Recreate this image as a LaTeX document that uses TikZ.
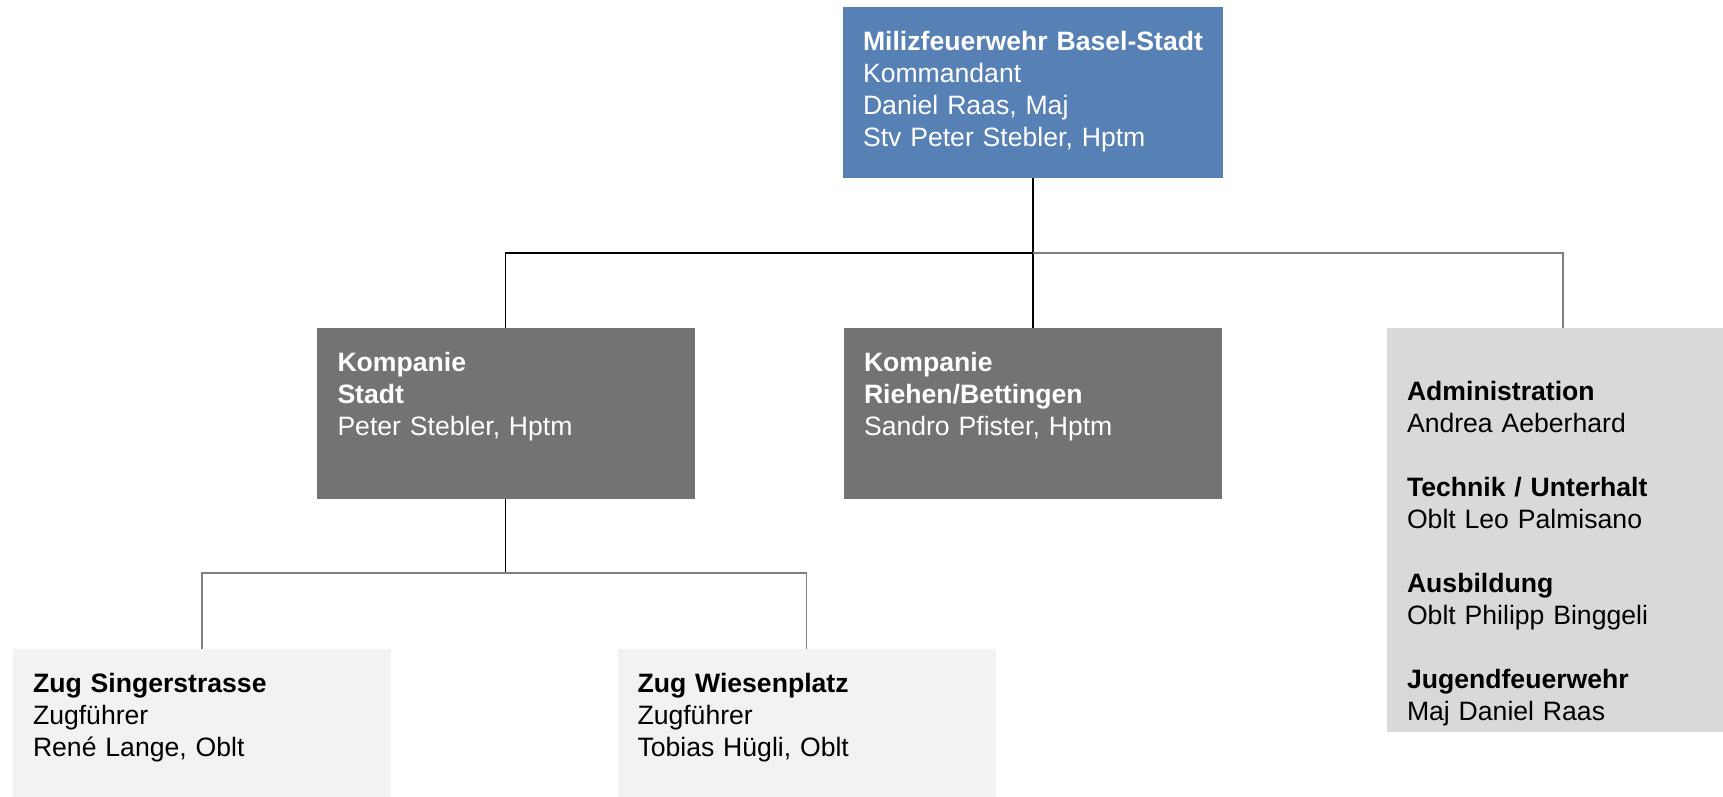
\documentclass[tikz,border=0pt]{standalone}
\usepackage{fontspec}
\setmainfont{Liberation Sans}
\usetikzlibrary{positioning}

\definecolor{chefblue}{RGB}{87,128,180}
\definecolor{kompgray}{RGB}{115,115,115}
\definecolor{admingray}{RGB}{217,217,217}
\definecolor{zuggray}{RGB}{242,242,242}
\definecolor{linkgray}{RGB}{128,128,128}

\tikzset{
  unitbox/.style={rectangle, inner sep=0pt, minimum width=189pt, minimum height=85.5pt},
  boxtext/.style={anchor=base west, inner sep=0pt, align=left, text width=170pt,
    font=\fontsize{13.3}{16}\selectfont},
  link/.style={draw=black, line width=0.75pt},
  greylink/.style={draw=linkgray, line width=0.75pt}
}

\begin{document}
\begin{tikzpicture}[x=0.5pt,y=-0.5pt]
      \useasboundingbox (0,0) rectangle (1723,797);
      \clip (0,0) rectangle (1723,797);
      % boxes
      \node[unitbox, fill=chefblue, minimum width=190pt] (chef) at (1033,92.5) {};
      \node[unitbox, fill=kompgray] (stadt) at (505.5,413.5) {};
      \node[unitbox, fill=kompgray] (riehen) at (1033,413.5) {};
      \node[unitbox, fill=admingray, minimum width=176pt, minimum height=202pt] (admin) at (1563,530) {};
      \node[unitbox, fill=zuggray] (singer) at (202,734.5) {};
      \node[unitbox, fill=zuggray] (wiesen) at (806.5,734.5) {};
      % texts
      \node[boxtext, text=white] (chef text) at ([shift={(20,44)}]chef.north west)
        {\textbf{Milizfeuerwehr Basel-Stadt}\\Kommandant\\Daniel Raas, Maj\\Stv Peter Stebler, Hptm};
      \node[boxtext, text=white] (stadt text) at ([shift={(21,44)}]stadt.north west)
        {\textbf{Kompanie}\\\textbf{Stadt}\\Peter Stebler, Hptm};
      \node[boxtext, text=white] (riehen text) at ([shift={(20,44)}]riehen.north west)
        {\textbf{Kompanie}\\\textbf{Riehen/Bettingen}\\Sandro Pfister, Hptm};
      \node[boxtext] (admin text) at ([shift={(20,73)}]admin.north west)
        {\textbf{Administration}\\Andrea Aeberhard\\[16pt]
         \textbf{Technik / Unterhalt}\\Oblt Leo Palmisano\\[16pt]
         \textbf{Ausbildung}\\Oblt Philipp Binggeli\\[16pt]
         \textbf{Jugendfeuerwehr}\\Maj Daniel Raas};
      \node[boxtext] (singer text) at ([shift={(20,44)}]singer.north west)
        {\textbf{Zug Singerstrasse}\\Zugführer\\René Lange, Oblt};
      \node[boxtext] (wiesen text) at ([shift={(20,44)}]wiesen.north west)
        {\textbf{Zug Wiesenplatz}\\Zugführer\\Tobias Hügli, Oblt};
      % connectors
      \coordinate (hub) at (1033,253);
      \coordinate (zughub) at (505.5,573);
      \draw[link] (chef.south) -- (hub);
      \draw[link] (stadt.north) |- (hub) -- (riehen.north);
      \draw[greylink] (hub) -| (admin.north);
      \draw[link] (stadt.south) -- (zughub);
      \draw[greylink] (singer.north) |- (zughub) -| (wiesen.north);
    \end{tikzpicture}
\end{document}
